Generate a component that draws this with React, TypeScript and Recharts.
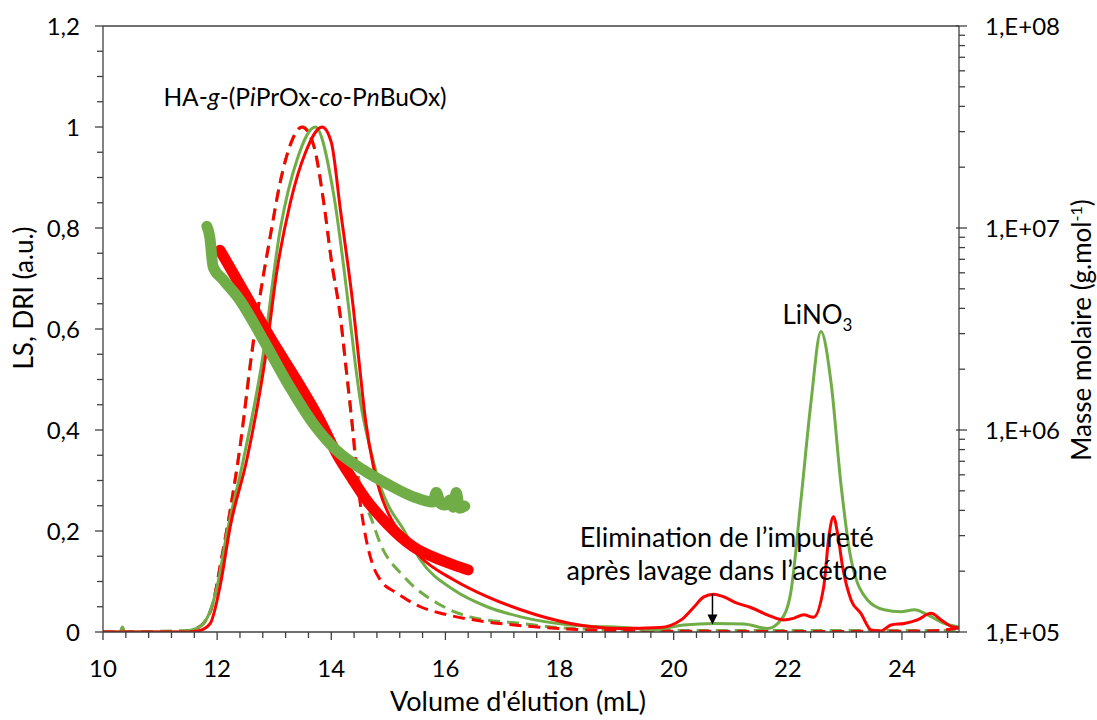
import { ComposedChart, Line, XAxis, YAxis, ReferenceLine, ReferenceDot } from "recharts";

const FONT = "Lato, 'Open Sans', sans-serif";
const RED = "#ff0000";
const GREEN = "#70ad47";
const AXIS = "#404040";
const INK = "#000000";

// x axis: volume d'élution (mL)
const xMajor = [10, 12, 14, 16, 18, 20, 22, 24];
const xTicks = [
  10, 10.4, 10.8, 11.2, 11.6, 12, 12.4, 12.8, 13.2, 13.6, 14, 14.4, 14.8, 15.2, 15.6, 16, 16.4, 16.8, 17.2, 17.6,
  18, 18.4, 18.8, 19.2, 19.6, 20, 20.4, 20.8, 21.2, 21.6, 22, 22.4, 22.8, 23.2, 23.6, 24, 24.4, 24.8,
];

// left axis: LS, DRI (a.u.)
const leftMajor = [0, 0.2, 0.4, 0.6, 0.8, 1, 1.2];
const leftLabels = ["0", "0,2", "0,4", "0,6", "0,8", "1", "1,2"];
const leftTicks = [
  0, 0.05, 0.1, 0.15, 0.2, 0.25, 0.3, 0.35, 0.4, 0.45, 0.5, 0.55, 0.6, 0.65, 0.7, 0.75, 0.8, 0.85, 0.9, 0.95, 1,
  1.05, 1.1, 1.15, 1.2,
];

// right axis: masse molaire (log)
const rightMajor = [1e5, 1e6, 1e7, 1e8];
const rightLabels = ["1,E+05", "1,E+06", "1,E+07", "1,E+08"];
const rightTicks = [
  1e5, 2e5, 3e5, 4e5, 5e5, 6e5, 7e5, 8e5, 9e5,
  1e6, 2e6, 3e6, 4e6, 5e6, 6e6, 7e6, 8e6, 9e6,
  1e7, 2e7, 3e7, 4e7, 5e7, 6e7, 7e7, 8e7, 9e7, 1e8,
];

// red, solid trace
const redSolidX = [
  10, 11.5, 11.7, 11.88, 12.05, 12.23, 12.52, 12.84, 13.05, 13.28, 13.55, 13.84, 14.0, 14.16, 14.39, 14.49, 14.6,
  14.74, 14.86, 15.03, 15.27, 15.56, 16.15, 16.73, 17.32, 18.19, 19.07, 19.76, 20.13, 20.36, 20.52, 20.7, 20.87,
  21.11, 21.34, 21.64, 21.92, 22.1, 22.28, 22.45, 22.63, 22.72, 22.8, 22.88, 22.96, 23.11, 23.28, 23.46, 23.63,
  23.81, 24.04, 24.27, 24.51, 24.69, 24.86, 25,
];
const redSolidY = [
  0, 0, 0.003, 0.017, 0.09, 0.209, 0.341, 0.539, 0.717, 0.849, 0.95, 1.0, 0.97, 0.836, 0.638, 0.532, 0.42,
  0.327, 0.275, 0.228, 0.189, 0.149, 0.103, 0.07, 0.044, 0.017, 0.007, 0.009, 0.024, 0.05, 0.069, 0.075, 0.07,
  0.057, 0.049, 0.034, 0.024, 0.027, 0.034, 0.029, 0.09, 0.189, 0.228, 0.19, 0.129, 0.063, 0.037, 0.004, 0.002,
  0.014, 0.017, 0.024, 0.037, 0.024, 0.011, 0.008,
];

// red, dashed trace
const redDashX = [
  10, 11.5, 11.6, 11.76, 11.94, 12.05, 12.23, 12.41, 12.6, 12.75, 12.93, 13.1, 13.3, 13.48, 13.68, 13.87, 14.0,
  14.16, 14.25, 14.37, 14.45, 14.57, 14.74, 14.86, 15.15, 15.56, 16.0, 16.73, 17.6, 18.5, 19.5, 22, 24.5, 25,
];
const redDashY = [
  0, 0, 0.005, 0.017, 0.063, 0.129, 0.242, 0.374, 0.545, 0.664, 0.783, 0.888, 0.97, 1.0, 0.968, 0.849, 0.737,
  0.624, 0.532, 0.407, 0.308, 0.209, 0.129, 0.103, 0.077, 0.05, 0.035, 0.02, 0.01, 0.004, 0.002, 0.001, 0.002,
  0.008,
];

// green, solid trace
const greenSolidX = [
  10, 10.3, 10.34, 10.38, 11.4, 11.53, 11.76, 12.0, 12.17, 12.46, 12.78, 13.11, 13.4, 13.72, 14.04, 14.31, 14.42,
  14.52, 14.69, 14.86, 14.98, 15.27, 15.56, 16.15, 16.73, 17.32, 18.19, 19.36, 19.6, 20.18, 20.71, 21.23, 21.65,
  21.88, 22.05, 22.23, 22.41, 22.58, 22.76, 22.93, 23.11, 23.4, 23.69, 23.98, 24.22, 24.45, 24.74, 25,
];
const greenSolidY = [
  0, 0, 0.01, 0, 0, 0.003, 0.017, 0.09, 0.195, 0.341, 0.53, 0.8, 0.935, 1.0, 0.868, 0.638, 0.532,
  0.45, 0.36, 0.288, 0.255, 0.202, 0.143, 0.083, 0.05, 0.03, 0.014, 0.007, 0.004, 0.014, 0.017, 0.016, 0.007,
  0.024, 0.077, 0.261, 0.459, 0.595, 0.492, 0.294, 0.143, 0.063, 0.044, 0.04, 0.044, 0.034, 0.017, 0.01,
];

// green, dashed trace
const greenDashX = [
  10, 11.5, 11.76, 11.94, 12.05, 12.23, 12.41, 12.58, 12.75, 12.93, 13.1, 13.3, 13.51, 13.7, 13.87, 14.0, 14.16,
  14.25, 14.37, 14.5, 14.71, 14.86, 15.27, 15.86, 16.43, 17.32, 18.19, 19.5, 25,
];
const greenDashY = [
  0, 0.003, 0.017, 0.063, 0.129, 0.242, 0.374, 0.532, 0.664, 0.783, 0.888, 0.97, 1.0, 0.96, 0.849, 0.737, 0.624,
  0.532, 0.407, 0.29, 0.222, 0.175, 0.11, 0.057, 0.03, 0.017, 0.007, 0.003, 0.003,
];

// molar mass (g/mol), red sample
const redMassX = [12.05, 12.52, 12.92, 13.39, 13.8, 14.09, 14.38, 14.62, 14.97, 15.43, 15.9, 16.2, 16.4];
const redMassY = [7.76e6, 4.57e6, 2.9e6, 1.77e6, 1.12e6, 7.67e5, 5.66e5, 4.49e5, 3.45e5, 2.65e5, 2.28e5, 2.12e5, 2.03e5];

// molar mass (g/mol), green sample
const greenMassX = [
  11.82, 11.87, 11.93, 12.11, 12.4, 12.81, 13.27, 13.68, 14.09, 14.56, 14.97, 15.43, 15.78, 15.84, 15.92, 16.0,
  16.08, 16.14, 16.19, 16.25, 16.34,
];
const greenMassY = [
  1.02e7, 9.07e6, 6.42e6, 5.53e6, 4.39e6, 2.79e6, 1.64e6, 1.08e6, 7.94e5, 6.35e5, 5.43e5, 4.68e5, 4.4e5, 4.9e5,
  4.3e5, 4.25e5, 4.5e5, 4.15e5, 4.9e5, 4.1e5, 4.2e5,
];

const zip = (xs: number[], ys: number[]) => xs.map((x, i) => ({ x, y: ys[i] }));

const redSolid = zip(redSolidX, redSolidY);
const redDash = zip(redDashX, redDashY);
const greenSolid = zip(greenSolidX, greenSolidY);
const greenDash = zip(greenDashX, greenDashY);
const redMass = zip(redMassX, redMassY);
const greenMass = zip(greenMassX, greenMassY);

const txt = (size: number) => ({ fontFamily: FONT, fontSize: size, fill: INK });
const TICK = txt(24);

function BottomTick({ x, y, payload }: any) {
  const major = xMajor.indexOf(payload.value) >= 0;
  return (
    <g>
      <line x1={x} x2={x} y1={y} y2={y + (major ? 8 : 6)} stroke={AXIS} strokeWidth={1.3} />
      {major && (
        <text x={x} y={y + 45} textAnchor="middle" {...TICK}>
          {payload.value}
        </text>
      )}
    </g>
  );
}

function LeftTick({ x, y, payload }: any) {
  const idx = leftMajor.indexOf(payload.value);
  const major = idx >= 0;
  return (
    <g>
      <line x1={x - (major ? 8 : 6)} x2={x} y1={y} y2={y} stroke={AXIS} strokeWidth={1.3} />
      {major && (
        <text x={x - 23} y={y} dy="0.36em" textAnchor="end" {...TICK}>
          {leftLabels[idx]}
        </text>
      )}
    </g>
  );
}

function RightTick({ x, y, payload }: any) {
  const idx = rightMajor.indexOf(payload.value);
  const major = idx >= 0;
  return (
    <g>
      <line x1={major ? x - 3 : x} x2={x + (major ? 8 : 6)} y1={y} y2={y} stroke={AXIS} strokeWidth={1.3} />
      {major && (
        <text x={x + 26} y={y} dy="0.36em" textAnchor="start" {...TICK}>
          {rightLabels[idx]}
        </text>
      )}
    </g>
  );
}

function XTitle() {
  return (
    <text x={518} y={711} textAnchor="middle" {...txt(27)}>
      Volume d'élution (mL)
    </text>
  );
}

function LeftTitle() {
  return (
    <text x={0} y={0} transform="translate(33, 298) rotate(-90)" textAnchor="middle" {...txt(26)}>
      LS, DRI (a.u.)
    </text>
  );
}

function RightTitle() {
  return (
    <text x={0} y={0} transform="translate(1091, 330) rotate(-90)" textAnchor="middle" {...txt(26)}>
      Masse molaire (g.mol
      <tspan dy={-9} fontSize={16}>
        -1
      </tspan>
      <tspan dy={9}>)</tspan>
    </text>
  );
}

function PolymerLabel({ cx, cy }: any) {
  return (
    <text x={cx} y={cy} dy="0.36em" textAnchor="middle" {...txt(24.5)}>
      HA-<tspan fontStyle="italic">g</tspan>-(P<tspan fontStyle="italic">i</tspan>PrOx-
      <tspan fontStyle="italic">co</tspan>-P<tspan fontStyle="italic">n</tspan>BuOx)
    </text>
  );
}

function SaltLabel({ cx, cy }: any) {
  return (
    <text x={cx} y={cy} dy="0.36em" textAnchor="middle" {...txt(26)}>
      LiNO
      <tspan dy={7} fontSize={17}>
        3
      </tspan>
    </text>
  );
}

function ImpurityLabel({ cx, cy }: any) {
  return (
    <text x={cx} y={cy} textAnchor="middle" {...txt(27)}>
      <tspan x={cx} dy="0.36em">
        Elimination de l’impureté
      </tspan>
      <tspan x={cx} dy={33}>
        après lavage dans l’acétone
      </tspan>
    </text>
  );
}

function ArrowShape({ x1, y1, x2, y2 }: any) {
  return (
    <g>
      <line x1={x1} y1={y1} x2={x2} y2={y2 - 9} stroke={INK} strokeWidth={1.5} />
      <polygon points={`${x2 - 5},${y2 - 10} ${x2 + 5},${y2 - 10} ${x2},${y2}`} fill={INK} />
    </g>
  );
}

export default function App() {
  return (
    <div style={{ position: "absolute", left: 0, top: 0, width: 1097, height: 720, background: "#fff" }}>
      <ComposedChart width={1097} height={720} margin={{ top: 26, right: 0, bottom: 0, left: 0 }}>
        <XAxis
          type="number"
          dataKey="x"
          domain={[10, 25]}
          allowDataOverflow
          ticks={xTicks}
          interval={0}
          tickSize={0}
          tickMargin={0}
          tickLine={false}
          tick={<BottomTick />}
          height={88}
          stroke={AXIS}
          strokeWidth={1.3}
          label={{ content: XTitle }}
        />
        <YAxis
          yAxisId="left"
          type="number"
          domain={[0, 1.2]}
          allowDataOverflow
          ticks={leftTicks}
          interval={0}
          tickSize={0}
          tickMargin={0}
          tickLine={false}
          tick={<LeftTick />}
          width={103}
          stroke={AXIS}
          strokeWidth={1.3}
          label={{ content: LeftTitle }}
        />
        <YAxis
          yAxisId="right"
          orientation="right"
          type="number"
          scale="log"
          domain={[1e5, 1e8]}
          allowDataOverflow
          ticks={rightTicks}
          interval={0}
          tickSize={0}
          tickMargin={0}
          tickLine={false}
          tick={<RightTick />}
          width={138}
          stroke={AXIS}
          strokeWidth={1.3}
          label={{ content: RightTitle }}
        />
        <ReferenceLine yAxisId="left" y={1.2} stroke={AXIS} strokeWidth={1.3} />

        <Line yAxisId="left" data={greenDash} dataKey="y" type="monotone" stroke={GREEN} strokeWidth={3}
          strokeDasharray="12 7" dot={false} isAnimationActive={false} />
        <Line yAxisId="left" data={redDash} dataKey="y" type="monotone" stroke={RED} strokeWidth={3}
          strokeDasharray="12 7" dot={false} isAnimationActive={false} />
        <Line yAxisId="left" data={greenSolid} dataKey="y" type="monotone" stroke={GREEN} strokeWidth={3}
          dot={false} isAnimationActive={false} />
        <Line yAxisId="left" data={redSolid} dataKey="y" type="monotone" stroke={RED} strokeWidth={3}
          dot={false} isAnimationActive={false} />
        <Line yAxisId="right" data={redMass} dataKey="y" type="monotone" stroke={RED} strokeWidth={11}
          strokeLinecap="round" strokeLinejoin="round" dot={false} isAnimationActive={false} />
        <Line yAxisId="right" data={greenMass} dataKey="y" type="monotone" stroke={GREEN} strokeWidth={11}
          strokeLinecap="round" strokeLinejoin="round" dot={false} isAnimationActive={false} />

        <ReferenceDot yAxisId="left" x={13.54} y={1.06} r={0} shape={<PolymerLabel />} />
        <ReferenceDot yAxisId="left" x={22.52} y={0.628} r={0} shape={<SaltLabel />} />
        <ReferenceDot yAxisId="left" x={20.93} y={0.188} r={0} shape={<ImpurityLabel />} />
        <ReferenceLine
          yAxisId="left"
          segment={[
            { x: 20.68, y: 0.075 },
            { x: 20.68, y: 0.015 },
          ]}
          shape={<ArrowShape />}
        />
      </ComposedChart>
    </div>
  );
}
